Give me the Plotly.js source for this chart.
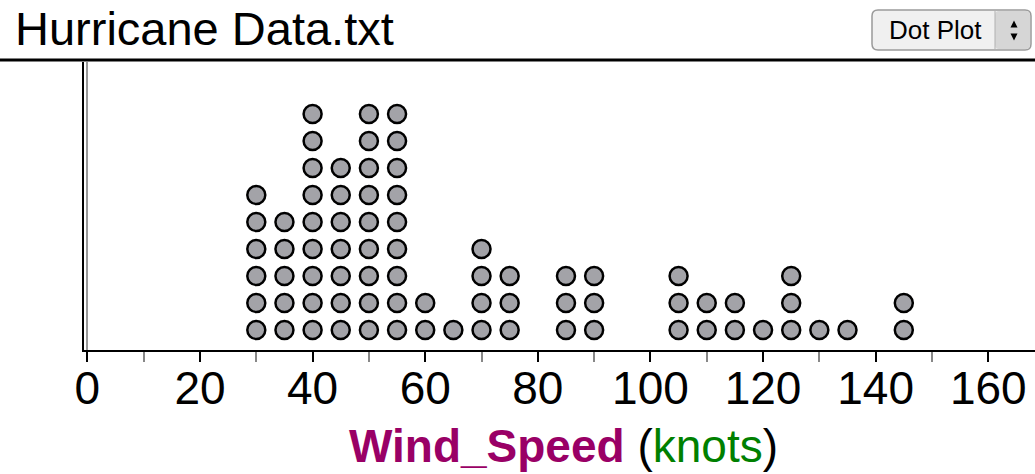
<!DOCTYPE html>
<html>
<head>
<meta charset="utf-8">
<script src="https://cdn.plot.ly/plotly-3.0.1.min.js"></script>
<style>
html,body{margin:0;padding:0;background:#fff;}
#chart{width:1035px;height:474px;}
</style>
</head>
<body>
<div id="chart"></div>
<script>
// Wind speed values (knots) and number of hurricanes at each value
const speedValues = [30, 35, 40, 45, 50, 55, 60, 65, 70, 75, 85, 90, 105, 110, 115, 120, 125, 130, 135, 145];
const speedCounts = [ 6,  5,  9,  7,  9,  9,  2,  1,  4,  3,  3,  3,   3,   2,   2,   1,   3,   1,   1,   2];
const xTickValues = [0, 20, 40, 60, 80, 100, 120, 140, 160];
const xTickLabels = ['0', '20', '40', '60', '80', '100', '120', '140', '160'];
const chartTitle = 'Hurricane Data.txt';
const plotTypeLabel = 'Dot Plot';
const attrName = 'Wind_Speed';
const attrUnit = 'knots';

// build stacked dots
const dotX = [], dotY = [];
speedValues.forEach((v, i) => {
  for (let k = 1; k <= speedCounts[i]; k++) { dotX.push(v); dotY.push(k); }
});

const W = 1035, H = 474;
const L = 84, R = 0, T = 62, B = 124;
const plotW = W - L - R, plotH = H - T - B;
const px = p => (p - L) / plotW;
const py = p => (H - B - p) / plotH;

function roundRect(x0, y0, x1, y1, r) {
  const X = v => px(v).toFixed(5), Y = v => py(v).toFixed(5);
  return `M${X(x0 + r)},${Y(y0)} L${X(x1 - r)},${Y(y0)} Q${X(x1)},${Y(y0)} ${X(x1)},${Y(y0 + r)} ` +
         `L${X(x1)},${Y(y1 - r)} Q${X(x1)},${Y(y1)} ${X(x1 - r)},${Y(y1)} L${X(x0 + r)},${Y(y1)} ` +
         `Q${X(x0)},${Y(y1)} ${X(x0)},${Y(y1 - r)} L${X(x0)},${Y(y0 + r)} Q${X(x0)},${Y(y0)} ${X(x0 + r)},${Y(y0)} Z`;
}
function tri(cx, cy, w, h, up) {
  const X = v => px(v).toFixed(5), Y = v => py(v).toFixed(5);
  if (up) return `M${X(cx - w/2)},${Y(cy + h/2)} L${X(cx + w/2)},${Y(cy + h/2)} L${X(cx)},${Y(cy - h/2)} Z`;
  return `M${X(cx - w/2)},${Y(cy - h/2)} L${X(cx + w/2)},${Y(cy - h/2)} L${X(cx)},${Y(cy + h/2)} Z`;
}

const font = 'Liberation Sans, Arial, Helvetica, sans-serif';

const trace = {
  type: 'scatter', mode: 'markers', x: dotX, y: dotY,
  marker: { size: 18, color: '#a3a3a8', line: { color: '#000', width: 2.5 } },
  hoverinfo: 'x', cliponaxis: false
};

const layout = {
  width: W, height: H,
  margin: { l: L, r: R, t: T, b: B, pad: 0 },
  paper_bgcolor: '#fff', plot_bgcolor: '#fff',
  showlegend: false,
  font: { family: font, color: '#000' },
  xaxis: {
    range: [-0.6, 168.3], tickmode: 'array', tickvals: xTickValues, ticktext: xTickLabels,
    ticks: 'outside', ticklen: 10, tickwidth: 2, tickcolor: '#000',
    minor: { dtick: 10, tick0: 0, ticks: 'outside', ticklen: 10, tickwidth: 2, tickcolor: '#888' },
    showline: true, linecolor: '#000', linewidth: 2,
    showgrid: false, zeroline: true, zerolinecolor: '#999', zerolinewidth: 2,
    tickfont: { size: 46, family: font, color: '#000' },
    ticklabelstandoff: -13,
    automargin: false,
    title: { text: '' }
  },
  yaxis: {
    range: [0.259, 10.93], showticklabels: false, ticks: '', showgrid: false, zeroline: false,
    showline: true, linecolor: '#000', linewidth: 2, automargin: false
  },
  shapes: [
    { type: 'line', xref: 'paper', yref: 'paper', x0: px(0), x1: px(W), y0: py(60), y1: py(60), line: { color: '#000', width: 3 } },
    { type: 'path', xref: 'paper', yref: 'paper', path: roundRect(872, 10, 1031, 50, 6), fillcolor: '#f0f0f0', line: { color: '#9a9a9a', width: 1.5 } },
    { type: 'path', xref: 'paper', yref: 'paper', path: roundRect(995, 11, 1030, 49, 4), fillcolor: '#d6d6d6', line: { color: '#d6d6d6', width: 0 } },
    { type: 'line', xref: 'paper', yref: 'paper', x0: px(995), x1: px(995), y0: py(11), y1: py(49), line: { color: '#b0b0b0', width: 1 } },
    { type: 'path', xref: 'paper', yref: 'paper', path: tri(1014, 24, 7, 7, true), fillcolor: '#000', line: { width: 0 } },
    { type: 'path', xref: 'paper', yref: 'paper', path: tri(1014, 37, 7, 7, false), fillcolor: '#000', line: { width: 0 } }
  ],
  annotations: [
    { xref: 'paper', yref: 'paper', x: px(13), y: py(57), xanchor: 'left', yanchor: 'bottom', showarrow: false,
      text: chartTitle, font: { size: 47, family: font, color: '#000' } },
    { xref: 'paper', yref: 'paper', x: px(935), y: py(30), xanchor: 'center', yanchor: 'middle', showarrow: false,
      text: plotTypeLabel, font: { size: 26, family: font, color: '#000' } },
    { xref: 'paper', yref: 'paper', x: px(563), y: py(474), xanchor: 'center', yanchor: 'bottom', showarrow: false,
      text: `<b><span style="color:#990066">${attrName}</span></b> (<span style="color:#008000">${attrUnit}</span>)`,
      font: { size: 46, family: font, color: '#000' } }
  ]
};

Plotly.newPlot('chart', [trace], layout, { displayModeBar: false, staticPlot: true });
</script>
</body>
</html>
